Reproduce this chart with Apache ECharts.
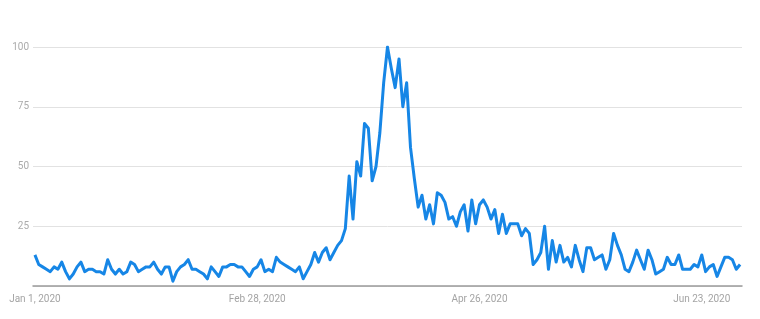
<!DOCTYPE html>
<html>
<head>
<meta charset="utf-8">
<script src="https://cdn.jsdelivr.net/npm/echarts@6/dist/echarts.min.js"></script>
<style>
html,body{margin:0;padding:0;background:#fff;}
#chart{width:760px;height:319px;}
</style>
</head>
<body>
<div id="chart"></div>
<script>
// Daily interest values, Jan 1 2020 onward (one value per day)
const startDate = '2020-01-01';
const values = [
  13,9,8,7,6,8,7,10,6,3,5,8,10,6,7,7,6,6,5,11,7,5,7,5,6,10,9,6,7,8,8,10,
  7,5,8,8,2,6,8,9,11,7,7,6,5,3,8,6,4,8,8,9,9,8,8,6,4,7,8,11,6,7,6,
  12,10,9,8,7,6,8,3,6,9,14,10,14,16,11,14,17,19,24,46,28,52,46,68,66,44,50,64,85,100,
  91,83,95,75,85,58,45,33,38,28,34,26,39,38,35,28,29,25,31,34,23,36,26,34,36,33,28,32,22,30,22,26,26,26,21,24,
  22,9,11,14,25,7,19,10,17,10,12,8,17,11,6,16,16,11,12,13,7,11,22,17,13,7,6,10,15,11,7,15,11,5,6,7,12,9,9,13,7,7,7,9,8,13,6,8,9,4,8,12,12,11,7,9
];
const xTickLabels = ['Jan 1, 2020', 'Feb 28, 2020', 'Apr 26, 2020', 'Jun 23, 2020'];
const yTicks = [0, 25, 50, 75, 100];

const months = ['Jan','Feb','Mar','Apr','May','Jun','Jul','Aug','Sep','Oct','Nov','Dec'];
const categories = values.map((v, i) => {
  const d = new Date(startDate + 'T00:00:00Z');
  d.setUTCDate(d.getUTCDate() + i);
  return months[d.getUTCMonth()] + ' ' + d.getUTCDate() + ', ' + d.getUTCFullYear();
});

const chart = echarts.init(document.getElementById('chart'), null, {renderer: 'canvas'});
chart.setOption({
  animation: false,
  backgroundColor: '#ffffff',
  grid: {left: 33, right: 18, top: 47, bottom: 33, containLabel: false},
  xAxis: {
    type: 'category',
    data: categories,
    boundaryGap: true,
    axisLine: {show: true, lineStyle: {color: '#9a9a9a', width: 1.5}},
    axisTick: {show: false},
    splitLine: {show: false},
    axisLabel: {
      interval: (idx, val) => xTickLabels.indexOf(val) >= 0,
      color: '#a4a4a4',
      fontFamily: 'Roboto',
      fontSize: 10,
      margin: 8
    }
  },
  yAxis: {
    type: 'value',
    min: yTicks[0],
    max: yTicks[yTicks.length - 1],
    interval: 25,
    axisLine: {show: false},
    axisTick: {show: false},
    splitLine: {show: true, lineStyle: {color: '#e2e2e2', width: 1}},
    axisLabel: {
      formatter: v => (v === 0 ? '' : String(v)),
      color: '#ababab',
      fontFamily: 'Roboto',
      fontSize: 10,
      margin: 4
    }
  },
  series: [{
    type: 'line',
    data: values,
    showSymbol: false,
    smooth: false,
    lineStyle: {color: '#1686e6', width: 3, join: 'round'},
    itemStyle: {color: '#1686e6'}
  }]
});
</script>
</body>
</html>
